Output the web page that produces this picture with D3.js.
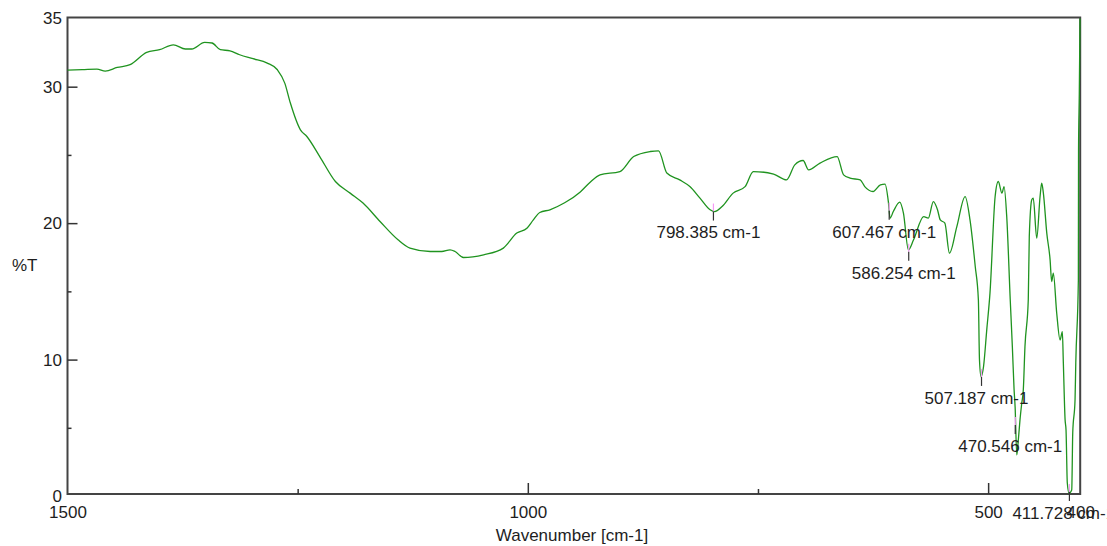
<!DOCTYPE html>
<html>
<head>
<meta charset="utf-8">
<script src="https://cdn.jsdelivr.net/npm/d3@7"></script>
<style>
  body { margin: 0; background: #fff; }
  svg { display: block; }
  text { font-family: "Liberation Sans", Arial, sans-serif; font-size: 17px; fill: #1e1e1e; }
</style>
</head>
<body>
<div class="ir_panel"></div>
<script>
// spectrum
var wavenumber = [1500, 1484, 1468, 1459, 1446, 1432, 1414, 1400, 1385, 1372, 1365, 1351, 1343, 1334, 1323.5, 1313,
  1298.5, 1283, 1272, 1264, 1258, 1247, 1240, 1226, 1209, 1193, 1179, 1160.5, 1141, 1128, 1106, 1093.5,
  1084.5, 1079, 1070, 1048, 1026.6, 1012, 1001, 994, 987, 976, 960, 943, 932, 921.6, 900, 885, 867, 858,
  849, 835, 824, 813, 802, 797, 789, 777, 764, 755, 733, 719, 710, 701, 695, 682.6, 664, 657, 650, 639,
  634, 625, 617, 612, 608.4, 606.5, 603, 596, 592, 586.6, 581, 570, 565, 559.5, 555, 552, 547, 542, 534,
  525, 519.7, 514, 510.6, 509.4, 507.7, 505, 501.5, 498, 492.4, 489, 485, 482.7, 479.8, 476, 473.7, 471.8,
  470.7, 468.9, 467.2, 465.4, 463.5, 461.8, 460, 456.4, 455.3, 452.6, 451, 447.2, 443.6, 441.8, 440, 436.3,
  432.7, 431, 429.2, 425.5, 421.9, 419.4, 418.3, 416.4, 415.4, 414, 412.1, 409.2, 408.1, 405.6, 404.8, 402,
  401.8, 401, 400.2];
var transmittance = [31.22, 31.25, 31.29, 31.14, 31.41, 31.61, 32.51, 32.71, 33.07, 32.76, 32.76, 33.24, 33.2, 32.71,
  32.63, 32.34, 32.05, 31.73, 31.24, 30.26, 28.82, 26.84, 26.35, 24.88, 23.05, 22.2, 21.47, 20.12, 18.78,
  18.17, 17.92, 17.92, 18.04, 17.92, 17.48, 17.68, 18.17, 19.27, 19.63, 20.24, 20.78, 20.98, 21.49, 22.29,
  23.02, 23.54, 23.78, 24.88, 25.25, 25.3, 23.67, 23.17, 22.68, 21.83, 20.98, 20.85, 21.22, 22.2, 22.68,
  23.78, 23.59, 23.17, 24.27, 24.59, 23.91, 24.4, 24.88, 23.54, 23.3, 23.17, 22.68, 22.32, 22.81, 22.86,
  21.58, 20.37, 20.85, 21.54, 20.73, 18.04, 18.78, 20.48, 20.37, 21.58, 20.98, 20.24, 20.0, 17.8, 19.75,
  21.95, 20.24, 16.82, 14.38, 9.98, 8.75, 9.49, 12.18, 14.87, 21.95, 23.05, 22.2, 22.68, 20.48, 14.38,
  10.95, 7.78, 6.55, 3.01, 4.11, 5.58, 6.8, 7.78, 10.95, 14.38, 19.02, 21.71, 21.83, 18.9, 21.95, 22.93,
  22.2, 19.27, 17.31, 15.72, 16.33, 13.4, 11.44, 12.05, 9.74, 5.58, 4.85, 0.96, 0.21, 0.45, 4.63, 7.05,
  9.76, 15.84, 25.37, 29.4, 35];

// picked peaks
var peakWave = [798.385, 607.467, 586.254, 507.187, 470.546, 411.728];
var peakValue = [20.85, 20.9, 17.9, 8.73, 5.2, 0.3];

// ticks
var xLabels = [1500, 1000, 500, 400];
var xMajor = [1000, 500];
var xMinor = [1250, 750];
var yLabels = [0, 10, 20, 30, 35];
var yMajor = [10, 20, 30];
var yMinor = [5, 15, 25];

var width = 1107, height = 546;
var plot = { left: 67.5, right: 1080.2, top: 17.5, bottom: 494 };

var x = d3.scaleLinear().domain([1500, 400]).range([plot.left, plot.right]);
var y = d3.scaleLinear().domain([0.15, 35.07]).range([plot.bottom, plot.top]);

var svg = d3.select('.ir_panel')
  .append('svg')
  .attr('width', width)
  .attr('height', height);

// frame
svg.append('rect')
  .attr('x', plot.left)
  .attr('y', plot.top)
  .attr('width', plot.right - plot.left)
  .attr('height', plot.bottom - plot.top)
  .attr('fill', 'none')
  .attr('stroke', '#444')
  .attr('stroke-width', 2);

function styleTicks(g) {
  g.select('.domain').remove();
  g.selectAll('line').attr('stroke', '#333').attr('stroke-width', 1.5);
}
function styleLabels(g) {
  g.select('.domain').remove();
  g.selectAll('text').style('font-size', '17px').attr('fill', '#1e1e1e');
}

// y axis: labels, then major and minor ticks pointing inward
svg.append('g')
  .attr('transform', 'translate(' + plot.left + ',0)')
  .call(d3.axisLeft(y).tickValues(yLabels).tickSize(0).tickPadding(5.5).tickFormat(d3.format('d')))
  .call(styleLabels);

svg.append('g')
  .attr('transform', 'translate(' + plot.left + ',0)')
  .call(d3.axisLeft(y).tickValues(yMajor).tickSize(-10).tickFormat(''))
  .call(styleTicks);

svg.append('g')
  .attr('transform', 'translate(' + plot.left + ',0)')
  .call(d3.axisLeft(y).tickValues(yMinor).tickSize(-4).tickFormat(''))
  .call(styleTicks);

// x axis
svg.append('g')
  .attr('transform', 'translate(0,' + plot.bottom + ')')
  .call(d3.axisBottom(x).tickValues(xLabels).tickSize(0).tickPadding(12).tickFormat(d3.format('d')))
  .call(styleLabels);

svg.append('g')
  .attr('transform', 'translate(0,' + plot.bottom + ')')
  .call(d3.axisBottom(x).tickValues(xMajor).tickSize(-11).tickFormat(''))
  .call(styleTicks);

svg.append('g')
  .attr('transform', 'translate(0,' + plot.bottom + ')')
  .call(d3.axisBottom(x).tickValues(xMinor).tickSize(-5).tickFormat(''))
  .call(styleTicks);

// axis titles
svg.append('text')
  .attr('x', 572)
  .attr('y', 535)
  .attr('dy', '0.35em')
  .attr('text-anchor', 'middle')
  .text('Wavenumber [cm-1]');

svg.append('text')
  .attr('x', 12)
  .attr('y', 265)
  .attr('dy', '0.35em')
  .text('%T');

// the spectrum
var spectrum = wavenumber.map(function(w, i) { return { w: w, t: transmittance[i] }; });

var line = d3.line()
  .curve(d3.curveMonotoneX)
  .x(function(d) { return x(d.w); })
  .y(function(d) { return y(d.t); });

svg.append('path')
  .datum(spectrum)
  .attr('d', line)
  .attr('fill', 'none')
  .attr('stroke', '#1f931f')
  .attr('stroke-width', 1.3);

// peak markers and labels
var peaks = peakWave.map(function(w, i) { return { w: w, t: peakValue[i] }; });

var pk = svg.selectAll('.peak')
  .data(peaks)
  .enter().append('g')
  .attr('class', 'peak');

pk.append('line')
  .attr('x1', function(d) { return x(d.w); })
  .attr('x2', function(d) { return x(d.w); })
  .attr('y1', function(d) { return y(d.t) - 8; })
  .attr('y2', function(d) { return y(d.t); })
  .attr('stroke', '#f59af5')
  .attr('stroke-width', 1.2);

pk.append('line')
  .attr('x1', function(d) { return x(d.w); })
  .attr('x2', function(d) { return x(d.w); })
  .attr('y1', function(d) { return y(d.t); })
  .attr('y2', function(d) { return y(d.t) + 9; })
  .attr('stroke', '#333')
  .attr('stroke-width', 1.2);

pk.append('text')
  .attr('x', function(d) { return x(d.w) - 57; })
  .attr('y', function(d) { return y(d.t) + 21; })
  .attr('dy', '0.35em')
  .text(function(d) { return d.w.toFixed(3) + ' cm-1'; });
</script>
</body>
</html>
